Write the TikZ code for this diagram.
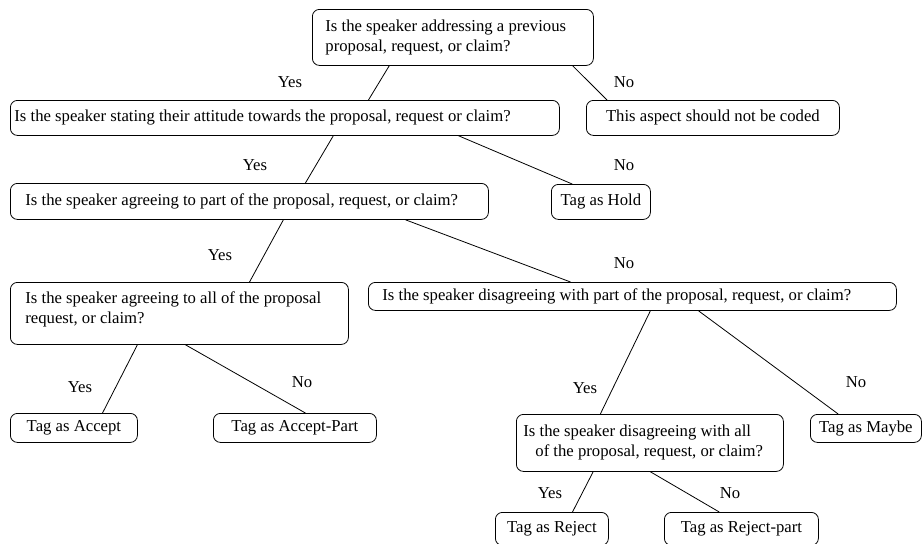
\documentclass[tikz,border=0pt]{standalone}
\usepackage{fontspec}
\setmainfont{Liberation Serif}
\usetikzlibrary{calc}

\tikzset{
  qbox/.style={draw, line width=0.8pt, rounded corners=7pt, anchor=north west, align=flush left, inner ysep=0pt},
  tagbox/.style={draw, line width=0.8pt, rounded corners=7pt, anchor=north west, inner sep=0pt},
  link/.style={line width=0.8pt},
}

\begin{document}
\begin{tikzpicture}[x=1pt, y=-1pt, every node/.style={font=\fontsize{16.7}{20}\selectfont}]

 \useasboundingbox (0,0) rectangle (922,544);

 % questions
 \node[qbox, inner xsep=13pt, text width=255pt, minimum height=56pt] (qa) at (312,9) {Is the speaker addressing a previous\\proposal, request, or claim?};
 \node[qbox, inner xsep=4pt, text width=541pt, minimum height=35pt] (qb) at (10,100) {Is the speaker stating their attitude towards the proposal, request or claim?};
 \node[qbox, inner xsep=15pt, text width=448pt, minimum height=36pt] (qd) at (10,183) {Is the speaker agreeing to part of the proposal, request, or claim?};
 \node[qbox, inner xsep=15pt, text width=308pt, minimum height=62pt, text depth=31pt] (qf) at (10,282) {Is the speaker agreeing to all of the proposal\\request, or claim?};
 \node[qbox, inner xsep=14pt, text width=500pt, minimum height=28pt] (qg) at (368,282) {Is the speaker disagreeing with part of the proposal, request, or claim?};
 \node[qbox, inner xsep=7pt, text width=253pt, minimum height=57pt] (qj) at (516,414) {Is the speaker disagreeing with all\\\hspace*{12pt}of the proposal, request, or claim?};

 % outcomes
 \node[tagbox, minimum width=253pt, minimum height=35pt] (tc) at (586,100) {This aspect should not be coded};
 \node[tagbox, minimum width=99pt, minimum height=35pt] (te) at (551,184) {Tag as Hold};
 \node[tagbox, minimum width=127pt, minimum height=29pt] (th) at (10,413) {Tag as Accept};
 \node[tagbox, minimum width=163pt, minimum height=29pt] (ti) at (213,413) {Tag as Accept-Part};
 \node[tagbox, minimum width=111pt, minimum height=28pt] (tk) at (810,414) {Tag as Maybe};
 \node[tagbox, minimum width=113pt, minimum height=33pt] (tl) at (495,512) {Tag as Reject};
 \node[tagbox, minimum width=154pt, minimum height=33pt] (tm) at (664,512) {Tag as Reject-part};

 % branches
 \draw[link] ($(qa.south west)!.274!(qa.south east)$) -- ($(qb.north west)!.652!(qb.north east)$);
 \draw[link] ($(qa.south west)!.925!(qa.south east)$) -- ($(tc.north west)!.083!(tc.north east)$);
 \draw[link] ($(qb.south west)!.588!(qb.south east)$) -- ($(qd.north west)!.617!(qd.north east)$);
 \draw[link] ($(qb.south west)!.816!(qb.south east)$) -- ($(te.north west)!.212!(te.north east)$);
 \draw[link] ($(qd.south west)!.571!(qd.south east)$) -- ($(qf.north west)!.707!(qf.north east)$);
 \draw[link] ($(qd.south west)!.826!(qd.south east)$) -- ($(qg.north west)!.383!(qg.north east)$);
 \draw[link] ($(qf.south west)!.376!(qf.south east)$) -- ($(th.north west)!.724!(th.north east)$);
 \draw[link] ($(qf.south west)!.518!(qf.south east)$) -- ($(ti.north west)!.564!(ti.north east)$);
 \draw[link] ($(qg.south west)!.534!(qg.south east)$) -- ($(qj.north west)!.315!(qj.north east)$);
 \draw[link] ($(qg.south west)!.625!(qg.south east)$) -- ($(tk.north west)!.252!(tk.north east)$);
 \draw[link] ($(qj.south west)!.288!(qj.south east)$) -- ($(tl.north west)!.681!(tl.north east)$);
 \draw[link] ($(qj.south west)!.502!(qj.south east)$) -- ($(tm.north west)!.357!(tm.north east)$);

 % answers
 \node (yab) at (290,82) {Yes};
 \node (nac) at (624,82) {No};
 \node (ybd) at (255,165) {Yes};
 \node (nbe) at (624,165) {No};
 \node (ydf) at (220,255) {Yes};
 \node (ndg) at (624,263) {No};
 \node (yfh) at (80,387) {Yes};
 \node (nfi) at (302,382) {No};
 \node (ygj) at (585,388) {Yes};
 \node (ngk) at (856,382) {No};
 \node (yjl) at (550,493) {Yes};
 \node (njm) at (730,493) {No};

\end{tikzpicture}
\end{document}
